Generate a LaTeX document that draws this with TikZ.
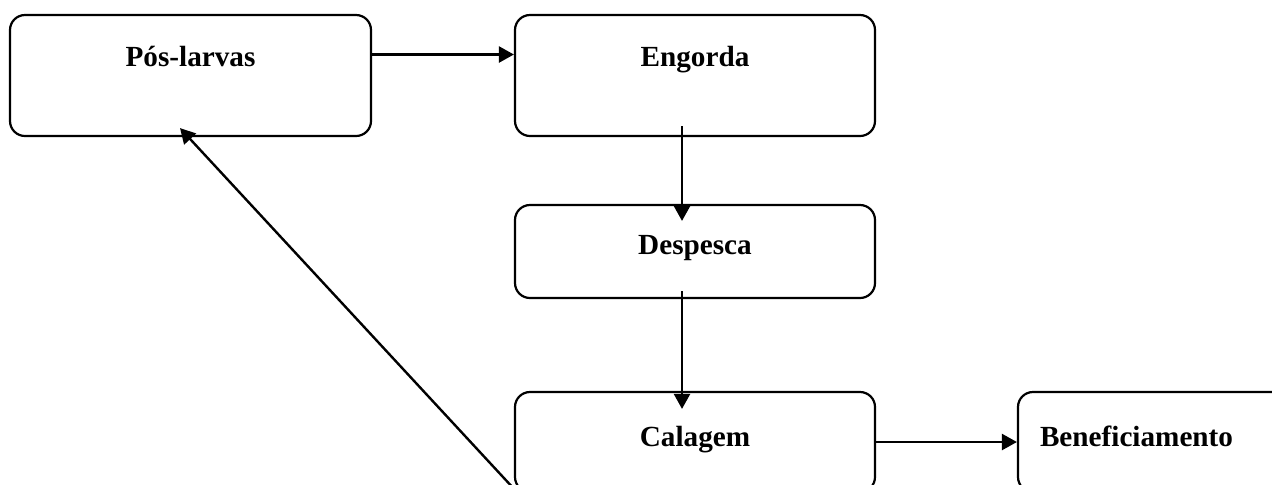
\documentclass[tikz,border=0pt]{standalone}
\usepackage{fontspec}
\setmainfont{Liberation Serif}
\usetikzlibrary{arrows.meta}
\tikzset{
  stage/.style={draw, line width=1.1pt, rounded corners=7.5pt, minimum width=180pt,
    font=\fontsize{14.6}{17}\selectfont\bfseries, text height=10pt},
  flow/.style={line width=1.2pt, -{Triangle[length=7.5pt,width=8pt]}}
}
\begin{document}
\begin{tikzpicture}[x=0.5pt, y=-0.5pt]
    \useasboundingbox (0,0) rectangle (1272,484);
    \clip (0,0) rectangle (1272,484);
    % Boxes
    \node[stage, minimum width=180.5pt, minimum height=60.5pt, text depth=19.5pt] (pos) at (190.5,75.5) {Pós-larvas};
    \node[stage, minimum height=60.5pt, text depth=19.5pt] (eng) at (695,75.5) {Engorda};
    \node[stage, minimum height=46.5pt, text depth=7.2pt] (des) at (695,251.5) {Despesca};
    \node[stage, minimum height=50pt, text depth=5.3pt] (cal) at (695,442) {Calagem};
    \node[stage, minimum width=140pt, minimum height=50pt, text depth=5.3pt,
      text width=118pt, inner xsep=11pt, align=left] (ben) at (1158,442) {Beneficiamento};
    % Arrows
    \draw[flow] ([yshift=10.5pt]pos.east) -- ([yshift=10.5pt]eng.west);
    \draw[flow] ([xshift=-6.5pt,yshift=5.5pt]eng.south) -- ([xshift=-6.5pt,yshift=-8.5pt]des.north);
    \draw[flow] ([xshift=-6.5pt,yshift=4pt]des.south) -- ([xshift=-6.5pt,yshift=-9pt]cal.north);
    \draw[flow] (cal.east) -- (ben.west);
    \draw[flow] ([xshift=2pt]cal.south west) -- ([xshift=-5.25pt,yshift=4.5pt]pos.south);
\end{tikzpicture}
\end{document}
